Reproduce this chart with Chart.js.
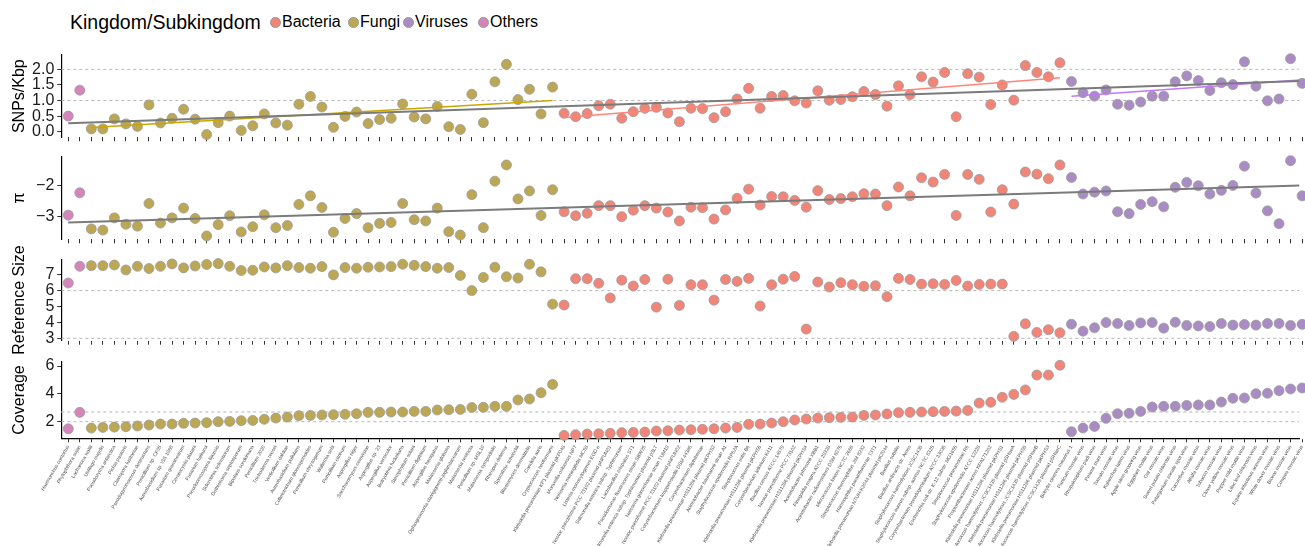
<!DOCTYPE html>
<html>
<head>
<meta charset="utf-8">
<script src="https://cdn.jsdelivr.net/npm/chart.js@4.4.1/dist/chart.umd.min.js"></script>
<style>
  html, body { margin: 0; padding: 0; background: #fff; }
  body { width: 1305px; height: 546px; position: relative; overflow: hidden;
         font-family: "Liberation Sans", Arial, Helvetica, sans-serif; }
  #legend { position: absolute; left: 0; top: 0; width: 700px; height: 45px; }
  #legend .title { position: absolute; left: 70px; top: 10px; font-size: 19.5px; line-height: 24px; color: #000; white-space: nowrap; }
  #legend .dot { position: absolute; top: 16.5px; width: 11px; height: 11px; border-radius: 50%; border: 1px solid #999; box-sizing: border-box; }
  #legend .lab { position: absolute; top: 12px; font-size: 16px; line-height: 20px; color: #000; white-space: nowrap; }
  canvas { position: absolute; left: 0; }
</style>
</head>
<body>
<div id="legend"></div>
<canvas id="pSnp" width="1305" height="120" style="top:35px"></canvas>
<canvas id="pPi" width="1305" height="120" style="top:137px"></canvas>
<canvas id="pSize" width="1305" height="130" style="top:239px"></canvas>
<canvas id="pCov" width="1305" height="205" style="top:341px"></canvas>
<script>
// ---- categories (one per reference genome) ----
const categories = [
  "Haemonchus contortus", "Phytophthora sojae",
  "Lachancea waltii", "Ustilago maydis", "Pseudozyma antarctica", "Pichia pastoris",
  "Clavispora lusitaniae", "Pseudogymnoascus destructans", "Penicillium sp. CF05",
  "Aureobasidium sp. ISS 1968", "Fusarium graminearum", "Ceratocystis platani",
  "Fusarium fujikuroi", "Pseudocercospora fijiensis", "Sclerotinia sclerotiorum",
  "Dothistroma septosporum", "Bipolaris sorokiniana", "Penicillium 2020",
  "Trichoderma reesei", "Verticillium dahliae", "Aureobasidium pullulans",
  "Colletotrichum gloeosporioides", "Penicillium chrysogenum", "Wallemia sebi",
  "Penicillium citrinum", "Aspergillus niger", "Saccharomyces cerevisiae",
  "Aspergillus sp. 23", "Aspergillus versicolor", "Botryotinia fuckeliana",
  "Stemphylium solani", "Penicillium digitatum", "Aspergillus fumigatus",
  "Malassezia globosa", "Ophiognomonia clavigignenti-juglandacearum",
  "Malassezia restricta", "Penicillium sp. MSL10", "Malassezia sympodialis",
  "Rhizopus delemar", "Sporothrix schenckii", "Blastomyces dermatitidis",
  "Candida auris", "Cryptococcus neoformans",
  "Klebsiella pneumoniae KP1 plasmid pKP048", "Moraxella osloensis NP7",
  "Neisseria meningitidis MC58", "Listeria monocytogenes EGD-e",
  "Nostoc punctiforme PCC 73102 plasmid pNPUN01", "Salmonella enterica subsp. Typhimurium",
  "Lactobacillus crispatus ST1", "Pseudomonas fluorescens strain SBW25",
  "Salmonella enterica subsp. Typhimurium plasmid pSLT", "Neisseria gonorrhoeae strain TUM19",
  "Nostoc punctiforme PCC 73102 plasmid pNPUN02", "Corynebacterium kroppenstedtii DSM 44385",
  "Corynebacterium diphtheriae", "Klebsiella pneumoniae HS11286 plasmid pKPHS2",
  "Acinetobacter baumannii strain A1", "Staphylococcus epidermidis RP62A",
  "Streptococcus mitis B6", "Klebsiella pneumoniae HS11286 plasmid pKPHS6",
  "Corynebacterium jeikeium K411", "Bacillus cereus ATCC 14579",
  "Nostoc punctiforme PCC 73102", "Klebsiella pneumoniae HS11286 plasmid pKPHS4",
  "Acinetobacter johnsonii XBB1", "Finegoldia magna ATCC 29328",
  "Acinetobacter radioresistens DSM 6976", "Micrococcus luteus NCTC 2665",
  "Streptococcus thermophilus JIM 8232", "Haemophilus parainfluenzae T3T1",
  "Klebsiella pneumoniae NTUH-K2044 plasmid pK2044", "Bacillus subtilis",
  "Bacillus anthracis str. Ames", "Staphylococcus haemolyticus JCSC1435",
  "Staphylococcus aureus subsp. aureus NCTC 8325", "Corynebacterium pseudogenitalium ATCC 33035",
  "Escherichia coli str. K-12 substr. MG1655", "Streptococcus pneumoniae R6",
  "Staphylococcus epidermidis ATCC 12228", "Propionibacterium acnes KPA171202",
  "Klebsiella pneumoniae HS11286 plasmid pKPHS1", "Staphylococcus haemolyticus JCSC1435 plasmid pSHaeA",
  "Klebsiella pneumoniae HS11286 plasmid pKPHS5", "Staphylococcus haemolyticus JCSC1435 plasmid pSHaeB",
  "Klebsiella pneumoniae HS11286 plasmid pKPHS3", "Staphylococcus haemolyticus JCSC1435 plasmid pSHaeC",
  "Botrytis cinerea mitovirus 1", "Panicum mosaic virus", "Rhopalosiphum padi virus",
  "Peanut stunt virus", "Tomato mosaic virus", "Kalanchoe latent virus",
  "Apple stem grooving virus", "Eggplant mottle virus", "Oat mosaic virus",
  "Sweet potato chlorotic virus", "Pelargonium zonate spot virus", "Cucumber mosaic virus",
  "Alfalfa mosaic virus", "Tobacco mosaic virus", "Clover yellow mosaic virus",
  "Pepper mild mottle virus", "Lilac leaf chlorosis virus", "Equine infectious anemia virus",
  "White clover mosaic virus", "Brome mosaic virus", "Cowpea mosaic virus"
];

// ---- kingdoms: names, colours and the category index range of each ----
const kingdomNames  = ["Bacteria", "Fungi", "Viruses", "Others"];
const kingdomColors = ["#F08578", "#BCA755", "#A98CC4", "#D485BA"];
const trendColors   = ["#FF857A", "#C9A600", "#BF78F8"];
const kingdomStart  = [43, 2, 87, 0];
const kingdomEnd    = [86, 42, 107, 1];

// ---- measured values, one per category ----
const snpsPerKbp = [
  0.50, 1.33,
  0.09, 0.09, 0.41, 0.25, 0.17, 0.86, 0.28, 0.43, 0.72, 0.40, -0.09, 0.29, 0.50, 0.04,
  0.19, 0.57, 0.28, 0.21, 0.88, 1.13, 0.79, 0.14, 0.49, 0.63, 0.26, 0.39, 0.43, 0.89,
  0.47, 0.41, 0.81, 0.16, 0.07, 1.20, 0.29, 1.60, 2.16, 1.03, 1.36, 0.57, 1.43,
  0.59, 0.48, 0.58, 0.83, 0.88, 0.43, 0.64, 0.75, 0.78, 0.60, 0.32, 0.75, 0.74, 0.45,
  0.64, 1.05, 1.39, 0.75, 1.13, 1.16, 0.99, 0.92, 1.31, 1.01, 1.03, 1.12, 1.29, 1.19,
  0.82, 1.47, 1.19, 1.76, 1.59, 1.90, 0.48, 1.86, 1.75, 0.87, 1.50, 1.01, 2.12, 1.90,
  1.76, 2.21,
  1.61, 1.25, 1.14, 1.34, 0.88, 0.85, 0.95, 1.14, 1.14, 1.60, 1.79, 1.64, 1.32, 1.57,
  1.51, 2.24, 1.46, 0.99, 1.05, 2.34, 1.55
];
const logPi = [
  -2.96, -2.23,
  -3.41, -3.45, -3.05, -3.26, -3.32, -2.58, -3.22, -3.05, -2.73, -3.07, -3.64, -3.27,
  -2.98, -3.51, -3.34, -2.95, -3.37, -3.30, -2.61, -2.33, -2.71, -3.52, -3.07, -2.91,
  -3.37, -3.23, -3.20, -2.58, -3.11, -3.15, -2.73, -3.50, -3.61, -2.29, -3.37, -1.85,
  -1.32, -2.43, -2.17, -2.97, -2.13,
  -2.85, -2.98, -2.90, -2.65, -2.65, -3.01, -2.80, -2.65, -2.73, -2.86, -3.15, -2.70,
  -2.72, -3.09, -2.79, -2.41, -2.11, -2.63, -2.35, -2.36, -2.48, -2.70, -2.16, -2.45,
  -2.42, -2.36, -2.26, -2.27, -2.65, -2.04, -2.33, -1.74, -1.88, -1.63, -2.97, -1.63,
  -1.79, -2.86, -2.13, -2.60, -1.55, -1.62, -1.77, -1.32,
  -1.73, -2.27, -2.21, -2.17, -2.85, -2.91, -2.61, -2.52, -2.69, -2.05, -1.89, -2.00,
  -2.27, -2.15, -1.99, -1.36, -2.24, -2.82, -3.24, -1.18, -2.33
];
const logRefSize = [
  6.48, 7.53,
  7.57, 7.57, 7.61, 7.30, 7.53, 7.39, 7.53, 7.68, 7.43, 7.55, 7.64, 7.70, 7.53, 7.26,
  7.28, 7.49, 7.43, 7.57, 7.45, 7.41, 7.51, 6.99, 7.45, 7.41, 7.47, 7.49, 7.51, 7.66,
  7.59, 7.51, 7.41, 7.45, 6.95, 6.00, 6.83, 7.47, 6.87, 6.79, 7.66, 7.18, 5.15,
  5.09, 6.75, 6.75, 6.46, 5.54, 6.66, 6.29, 6.70, 4.96, 6.72, 5.07, 6.37, 6.37, 5.40,
  6.70, 6.58, 6.77, 5.03, 6.37, 6.72, 6.89, 3.58, 6.54, 6.23, 6.50, 6.37, 6.27, 6.31,
  5.62, 6.77, 6.70, 6.41, 6.43, 6.39, 6.64, 6.29, 6.39, 6.41, 6.41, 3.12, 3.91, 3.37,
  3.54, 3.35,
  3.89, 3.45, 3.66, 3.99, 3.93, 3.81, 3.97, 3.99, 3.64, 4.01, 3.81, 3.78, 3.74, 3.93,
  3.83, 3.87, 3.83, 3.93, 3.93, 3.81, 3.88
];
const coverage = [
  1.49, 2.67,
  1.54, 1.59, 1.61, 1.64, 1.69, 1.76, 1.83, 1.83, 1.88, 1.90, 1.93, 2.00, 2.02, 2.07,
  2.09, 2.17, 2.26, 2.33, 2.43, 2.45, 2.48, 2.50, 2.53, 2.57, 2.67, 2.67, 2.69, 2.69,
  2.74, 2.74, 2.84, 2.86, 2.88, 3.02, 3.03, 3.10, 3.10, 3.56, 3.63, 4.08, 4.68,
  1.01, 1.06, 1.11, 1.13, 1.16, 1.21, 1.23, 1.25, 1.33, 1.35, 1.40, 1.42, 1.45, 1.49,
  1.54, 1.59, 1.81, 1.83, 1.90, 2.00, 2.12, 2.19, 2.26, 2.29, 2.31, 2.33, 2.45, 2.48,
  2.55, 2.65, 2.67, 2.69, 2.72, 2.74, 2.76, 2.81, 3.34, 3.39, 3.75, 3.96, 4.28, 5.35,
  5.35, 6.05,
  1.28, 1.54, 1.66, 2.24, 2.57, 2.60, 2.74, 3.05, 3.10, 3.10, 3.17, 3.20, 3.20, 3.41,
  3.68, 3.70, 4.01, 4.04, 4.23, 4.35, 4.42
];

// ---- axis ticks and dashed guide levels ----
const snpTicks = [0, 0.5, 1, 1.5, 2];
const piTicks = [-3, -2];
const sizeTicks = [3, 4, 5, 6, 7];
const coverageTicks = [2, 4, 6];
const snpGuides = [1, 2];
const sizeGuides = [3, 6];
const coverageGuides = [2, 2.7];

// ---- shared layout ----
const X_MIN = -0.604, X_MAX = 106.75;
const AXIS_W = 61.3;
const FONT = '"Liberation Sans", Arial, Helvetica, sans-serif';
Chart.defaults.font.family = FONT;

// legend row
(function buildLegend() {
  const box = document.getElementById('legend');
  const t = document.createElement('div');
  t.className = 'title';
  t.textContent = 'Kingdom/Subkingdom';
  box.appendChild(t);
  const dotX = [269.5, 347.5, 402.5, 477.5];
  const labX = [282, 360, 415, 490];
  kingdomNames.forEach((name, k) => {
    const d = document.createElement('div');
    d.className = 'dot';
    d.style.left = dotX[k] + 'px';
    d.style.background = kingdomColors[k];
    box.appendChild(d);
    const l = document.createElement('div');
    l.className = 'lab';
    l.style.left = labX[k] + 'px';
    l.textContent = name;
    box.appendChild(l);
  });
})();

function pointsFor(values, k) {
  const out = [];
  for (let i = kingdomStart[k]; i <= kingdomEnd[k]; i++) out.push({ x: i, y: values[i] });
  return out;
}

// ordinary least-squares line over a range of category positions
function lmLine(values, from, to) {
  let n = 0, sx = 0, sy = 0, sxx = 0, sxy = 0;
  for (let i = from; i <= to; i++) {
    n++; sx += i; sy += values[i]; sxx += i * i; sxy += i * values[i];
  }
  const b = (n * sxy - sx * sy) / (n * sxx - sx * sx);
  const a = (sy - b * sx) / n;
  return [{ x: from, y: a + b * from }, { x: to, y: a + b * to }];
}

function panel(id, cfg) {
  const datasets = [];
  cfg.guides.forEach((v, gi) => datasets.push({
    type: 'line',
    data: [{ x: X_MIN, y: v }, { x: X_MAX, y: v }],
    borderColor: gi === 1 && cfg.lightSecond ? '#d0d0d0' : '#b8b8b8',
    borderWidth: gi === 1 && cfg.lightSecond ? 1.6 : 1,
    borderDash: [3, 3],
    pointRadius: 0,
    order: 5
  }));
  [3, 1, 0, 2].forEach(k => datasets.push({
    type: 'scatter',
    label: kingdomNames[k],
    data: pointsFor(cfg.values, k),
    backgroundColor: kingdomColors[k],
    borderColor: '#9c9c9c',
    borderWidth: 0.8,
    pointRadius: 5,
    pointHoverRadius: 5,
    clip: false,
    order: 3
  }));
  if (cfg.groupTrends) {
    [1, 0, 2].forEach(k => datasets.push({
      type: 'line',
      data: lmLine(cfg.values, kingdomStart[k], kingdomEnd[k]),
      borderColor: trendColors[k],
      borderWidth: 1.5,
      pointRadius: 0,
      order: 1
    }));
  }
  if (cfg.overallTrend) {
    datasets.push({
      type: 'line',
      data: lmLine(cfg.values, 0, categories.length - 1),
      borderColor: '#7b7b7b',
      borderWidth: 2,
      pointRadius: 0,
      order: 0
    });
  }

  new Chart(document.getElementById(id), {
    type: 'scatter',
    data: { datasets },
    options: {
      responsive: false,
      animation: false,
      events: [],
      layout: { padding: { top: cfg.padTop, left: 0, right: 0, bottom: 0 } },
      plugins: { legend: { display: false }, tooltip: { enabled: false } },
      scales: {
        x: {
          type: 'linear',
          min: X_MIN,
          max: X_MAX,
          afterBuildTicks: s => { s.ticks = categories.map((_, i) => ({ value: i })); },
          afterFit: s => { s.height = cfg.xHeight; s.paddingLeft = 0; s.paddingRight = 0; },
          grid: { display: true, drawOnChartArea: false, drawTicks: true, tickLength: 4,
                  tickColor: '#333', tickWidth: 1 },
          border: { display: cfg.showLabels, color: '#000', width: 1.2 },
          ticks: {
            display: cfg.showLabels,
            autoSkip: false,
            minRotation: 60,
            maxRotation: 60,
            padding: 2,
            font: { size: 5 },
            color: '#555',
            callback: v => categories[v]
          }
        },
        y: {
          type: 'linear',
          min: cfg.min,
          max: cfg.max,
          afterBuildTicks: s => { s.ticks = cfg.ticks.map(v => ({ value: v })); },
          afterFit: s => { s.width = AXIS_W; },
          grid: { display: true, drawOnChartArea: false, drawTicks: true, tickLength: 4,
                  tickColor: '#333', tickWidth: 1 },
          border: { display: true, color: '#000', width: 1.2 },
          ticks: { autoSkip: false, font: { size: 16 }, color: '#1a1a1a', padding: 3,
                   callback: cfg.fmt },
          title: { display: true, text: cfg.title, color: '#000', font: { size: 16 },
                   padding: { top: 10, bottom: 0 } }
        }
      }
    }
  });
}

const minus = v => (v < 0 ? '\u2212' + Math.abs(v) : String(v));

panel('pSnp', { values: snpsPerKbp, min: -0.18, max: 2.46, ticks: snpTicks, guides: snpGuides,
  fmt: v => v.toFixed(1), title: 'SNPs/Kbp', padTop: 20, xHeight: 17.7, showLabels: false,
  groupTrends: true, overallTrend: true });
panel('pPi', { values: logPi, min: -3.75, max: -1.05, ticks: piTicks, guides: [],
  fmt: minus, title: '\u03c0', padTop: 19.7, xHeight: 17.7, showLabels: false,
  groupTrends: false, overallTrend: true });
panel('pSize', { values: logRefSize, min: 2.85, max: 7.97, ticks: sizeTicks, guides: sizeGuides,
  fmt: v => String(v), title: 'Reference Size', padTop: 20.3, xHeight: 28.3, showLabels: false,
  groupTrends: false, overallTrend: false });
panel('pCov', { values: coverage, min: 0.806, max: 6.31, ticks: coverageTicks, guides: coverageGuides,
  fmt: v => String(v), title: 'Coverage', padTop: 20.7, xHeight: 107.7, showLabels: true,
  groupTrends: false, overallTrend: false, lightSecond: true });
</script>
</body>
</html>
